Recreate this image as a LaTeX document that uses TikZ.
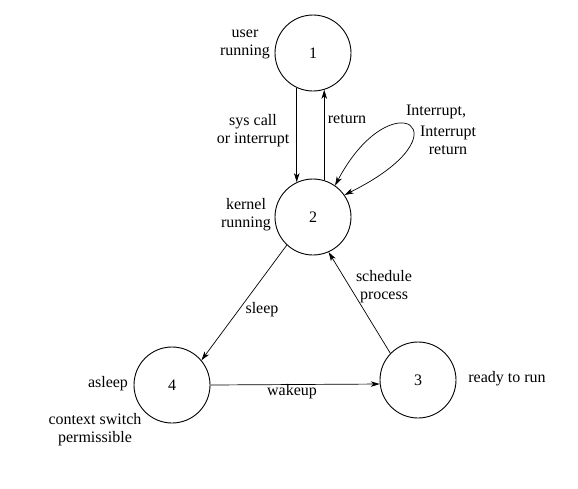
\documentclass[tikz,border=0pt]{standalone}
\usepackage{fontspec}
\setmainfont{Liberation Serif}
\usetikzlibrary{arrows.meta}
\begin{document}
\begin{tikzpicture}[x=1pt,y=-1pt,
  state/.style={circle,draw,minimum size=76pt,inner sep=0pt,line width=0.9pt,font=\fontsize{16}{18}\selectfont},
  lbl/.style={align=center,inner sep=0pt,font=\fontsize{16}{18}\selectfont},
  arr/.style={-{Stealth[length=9pt,width=5.5pt,inset=2.5pt]},line width=0.7pt},
  darr/.style={{Stealth[length=9pt,width=5.5pt,inset=2.5pt]}-{Stealth[length=9pt,width=5.5pt,inset=2.5pt]},line width=0.7pt}]
\path[use as bounding box] (0,0) rectangle (578,488);
\node[state] (s1) at (313,53) {1};
\node[state] (s2) at (313,217) {2};
\node[state] (s4) at (172,385) {4};
\node[state] (s3) at (418,380) {3};

\draw[arr] (s1.-115) -- (s2.115);
\draw[arr] (s2.73) -- (s1.-73);
\draw[darr] (s2.55) .. controls (392,78) and (472,132) .. (s2.35);
\draw[arr] (s2.-133) -- (s4.40);
\draw[arr] (s3.136) -- (s2.-66);
\draw[arr] (s4.0) -- (s3.-174);

\node[lbl] (l1) at (245,44) {user\\running};
\node[lbl] (l2) at (253,131) {sys call\\or interrupt};
\node[lbl] (l3) at (347,119) {return};
\node[lbl] (l4) at (436,112) {Interrupt,};
\node[lbl] (l5) at (448,140) {Interrupt\\return};
\node[lbl] (l6) at (246,215) {kernel\\running};
\node[lbl] (l7) at (262,310) {sleep};
\node[lbl] (l8) at (384,287) {schedule\\process};
\node[lbl] (l9) at (292,392) {wakeup};
\node[lbl] (l10) at (108,384) {asleep};
\node[lbl] (l11) at (95,430) {context switch\\permissible};
\node[lbl] (l12) at (507,379) {ready to run};
\end{tikzpicture}
\end{document}
